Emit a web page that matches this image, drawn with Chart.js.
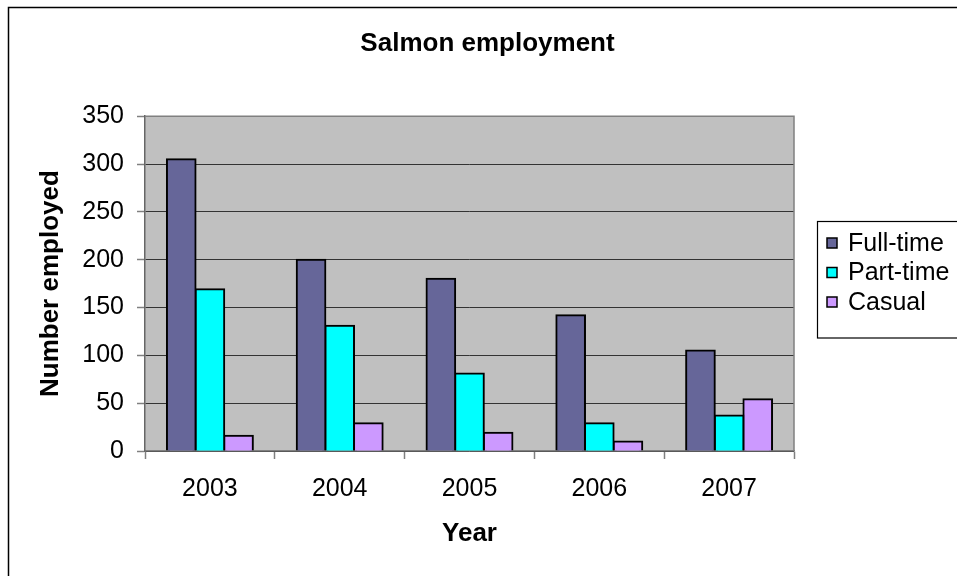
<!DOCTYPE html>
<html>
<head>
<meta charset="utf-8">
<script src="https://cdn.jsdelivr.net/npm/chart.js@4/dist/chart.umd.min.js"></script>
<style>
  html, body { margin: 0; padding: 0; background: #ffffff; }
  #wrap { width: 957px; height: 576px; }
</style>
</head>
<body>
<div id="wrap"><canvas id="chart" width="957" height="576"></canvas></div>
<script>
// Salmon employment by year
const years = ['2003', '2004', '2005', '2006', '2007'];
const fullTime = [305, 200, 180, 142, 105];
const partTime = [169, 131, 81, 29, 37];
const casual = [16, 29, 19, 10, 54];
const seriesNames = ['Full-time', 'Part-time', 'Casual'];
const seriesColors = ['#666699', '#00FFFF', '#CC99FF'];

const FONT = '"Liberation Sans", Arial, sans-serif';

// Grey plot background, plot frame and the outer chart border
const framePlugin = {
  id: 'frame',
  beforeDraw(chart) {
    const { ctx, chartArea: a } = chart;
    ctx.save();
    ctx.fillStyle = '#ffffff';
    ctx.fillRect(0, 0, chart.width, chart.height);
    ctx.fillStyle = '#C0C0C0';
    ctx.fillRect(a.left, a.top, a.right - a.left, a.bottom - a.top);
    ctx.restore();
  },
  afterDraw(chart) {
    const { ctx, chartArea: a } = chart;
    ctx.save();
    ctx.strokeStyle = '#808080';
    ctx.lineWidth = 1.5;
    ctx.beginPath();
    ctx.moveTo(a.left, a.top);
    ctx.lineTo(a.right, a.top);
    ctx.lineTo(a.right, a.bottom);
    ctx.stroke();
    ctx.strokeStyle = '#000000';
    ctx.lineWidth = 1.5;
    ctx.strokeRect(8.5, 7.5, chart.width + 40, chart.height + 40);
    ctx.restore();
  }
};

// Boxed legend on the right of the plot
const boxLegendPlugin = {
  id: 'boxLegend',
  afterDraw(chart) {
    const { ctx } = chart;
    const left = 817, top = 221, rowH = 29.5, firstY = 243;
    const sets = chart.data.datasets;
    ctx.save();
    ctx.fillStyle = '#ffffff';
    ctx.fillRect(left, top, 200, rowH * sets.length + 30);
    ctx.strokeStyle = '#000000';
    ctx.lineWidth = 1.2;
    ctx.strokeRect(left + 0.5, top + 0.5, 200, rowH * sets.length + 28);
    ctx.font = '25px ' + FONT;
    ctx.textBaseline = 'middle';
    ctx.textAlign = 'left';
    sets.forEach((ds, i) => {
      const cy = firstY + i * rowH;
      ctx.fillStyle = ds.backgroundColor;
      ctx.fillRect(827, cy - 5, 10, 10);
      ctx.strokeStyle = '#000000';
      ctx.lineWidth = 1.5;
      ctx.strokeRect(827, cy - 5, 10, 10);
      ctx.fillStyle = '#000000';
      ctx.fillText(ds.label, 848, cy + 1);
    });
    ctx.restore();
  }
};

const seriesValues = [fullTime, partTime, casual];

new Chart(document.getElementById('chart'), {
  type: 'bar',
  data: {
    labels: years,
    datasets: seriesValues.map((vals, i) => ({
      label: seriesNames[i],
      data: vals,
      backgroundColor: seriesColors[i],
      borderColor: '#000000',
      borderWidth: 2,
      inflateAmount: 1,
      categoryPercentage: 0.662,
      barPercentage: 1.0
    }))
  },
  options: {
    responsive: false,
    animation: false,
    events: [],
    layout: { padding: { left: 18, right: 0, top: 0, bottom: 0 } },
    plugins: {
      legend: { display: false },
      tooltip: { enabled: false },
      title: {
        display: true,
        text: 'Salmon employment',
        color: '#000000',
        font: { family: FONT, size: 26, weight: 'bold' },
        padding: { top: 28, bottom: 57 }
      }
    },
    scales: {
      x: {
        offset: true,
        afterFit(scale) { scale.height = 125; },
        grid: {
          offset: true,
          drawOnChartArea: false,
          drawTicks: true,
          tickLength: 8,
          tickColor: '#808080',
          tickWidth: 1.5
        },
        border: { display: true, color: '#808080', width: 1.5 },
        ticks: {
          color: '#000000',
          font: { family: FONT, size: 25 },
          padding: 15
        },
        title: {
          display: true,
          text: 'Year',
          color: '#000000',
          font: { family: FONT, size: 26, weight: 'bold' },
          padding: { top: 0, bottom: 27 }
        }
      },
      y: {
        min: 0,
        max: 350,
        afterFit(scale) { scale.width = 127; },
        grid: {
          color: (c) => (c.tick && c.tick.value === 350 ? '#808080' : '#333333'),
          lineWidth: 1,
          drawTicks: true,
          tickLength: 8,
          tickColor: '#808080',
          tickWidth: 1.5
        },
        border: { display: true, color: '#666666', width: 1.5 },
        ticks: {
          stepSize: 50,
          color: '#000000',
          font: { family: FONT, size: 25 },
          padding: 13
        },
        title: {
          display: true,
          text: 'Number employed',
          color: '#000000',
          font: { family: FONT, size: 26, weight: 'bold' },
          padding: { top: 17, bottom: 0 }
        }
      },
      // empty right-hand axis that reserves the room used by the legend box
      side: {
        type: 'linear',
        position: 'right',
        display: true,
        min: 0,
        max: 1,
        afterFit(scale) { scale.width = 163; },
        grid: { display: false },
        border: { display: false },
        ticks: { display: false }
      }
    }
  },
  plugins: [framePlugin, boxLegendPlugin]
});
</script>
</body>
</html>
